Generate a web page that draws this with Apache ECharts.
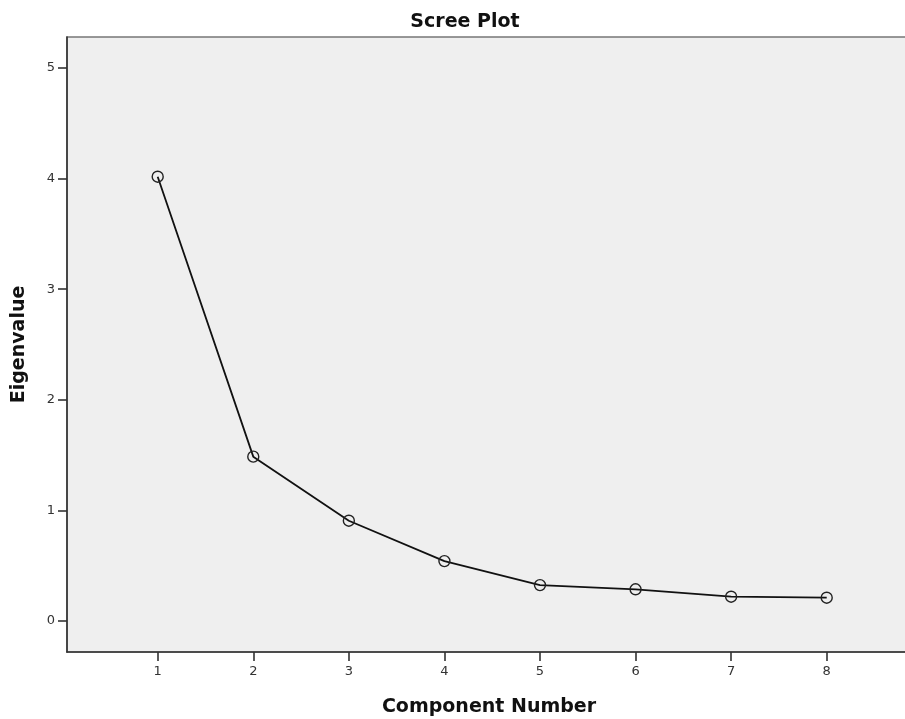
<!DOCTYPE html>
<html>
<head>
<meta charset="utf-8">
<script src="https://cdn.jsdelivr.net/npm/echarts@6/dist/echarts.min.js"></script>
<style>html,body{margin:0;padding:0;background:#fff}#c{width:905px;height:719px}</style>
</head>
<body>
<div id="c"></div>
<script>
var components = [1, 2, 3, 4, 5, 6, 7, 8];
var eigenvalues = [4.017, 1.486, 0.907, 0.542, 0.325, 0.287, 0.220, 0.211];
var xTicks = [1, 2, 3, 4, 5, 6, 7, 8];
var yTicks = [0, 1, 2, 3, 4, 5];

var chart = echarts.init(document.getElementById('c'));
var font = '"DejaVu Sans", sans-serif';
chart.setOption({
  animation: false,
  backgroundColor: '#ffffff',
  title: {
    text: 'Scree Plot',
    left: 460, top: 8, textAlign: 'center',
    textStyle: { fontFamily: font, fontWeight: 'bold', fontSize: 19, color: '#111' }
  },
  grid: {
    left: 67, right: -6, top: 37, bottom: 67,
    outerBoundsMode: 'none', containLabel: false,
    show: true, backgroundColor: '#efefef', borderColor: '#777', borderWidth: 1.5
  },
  xAxis: {
    type: 'value', min: 0.051, max: 8.882,
    name: 'Component Number', nameLocation: 'middle', nameGap: 46,
    nameTextStyle: { fontFamily: font, fontWeight: 'bold', fontSize: 19, color: '#111' },
    axisLine: { show: true, onZero: false, lineStyle: { color: '#333', width: 1.6 } },
    axisTick: { show: true, length: 9, customValues: xTicks, lineStyle: { color: '#333', width: 1.6 } },
    axisLabel: { customValues: xTicks, fontFamily: font, fontSize: 13, color: '#333', margin: 13 },
    splitLine: { show: false }
  },
  yAxis: {
    type: 'value', min: -0.28, max: 5.28,
    name: 'Eigenvalue', nameLocation: 'middle', nameGap: 38, nameRotate: 90,
    nameTextStyle: { fontFamily: font, fontWeight: 'bold', fontSize: 19, color: '#111' },
    axisLine: { show: true, onZero: false, lineStyle: { color: '#333', width: 1.6 } },
    axisTick: { show: true, length: 9, customValues: yTicks, lineStyle: { color: '#333', width: 1.6 } },
    axisLabel: { customValues: yTicks, fontFamily: font, fontSize: 13, color: '#333', margin: 12 },
    splitLine: { show: false }
  },
  series: [{
    type: 'line',
    data: components.map(function (c, i) { return [c, eigenvalues[i]]; }),
    lineStyle: { color: '#111', width: 1.8 },
    symbol: 'circle', symbolSize: 11,
    itemStyle: { color: 'rgba(0,0,0,0)', borderColor: '#222', borderWidth: 1.4 }
  }]
});
</script>
</body>
</html>
